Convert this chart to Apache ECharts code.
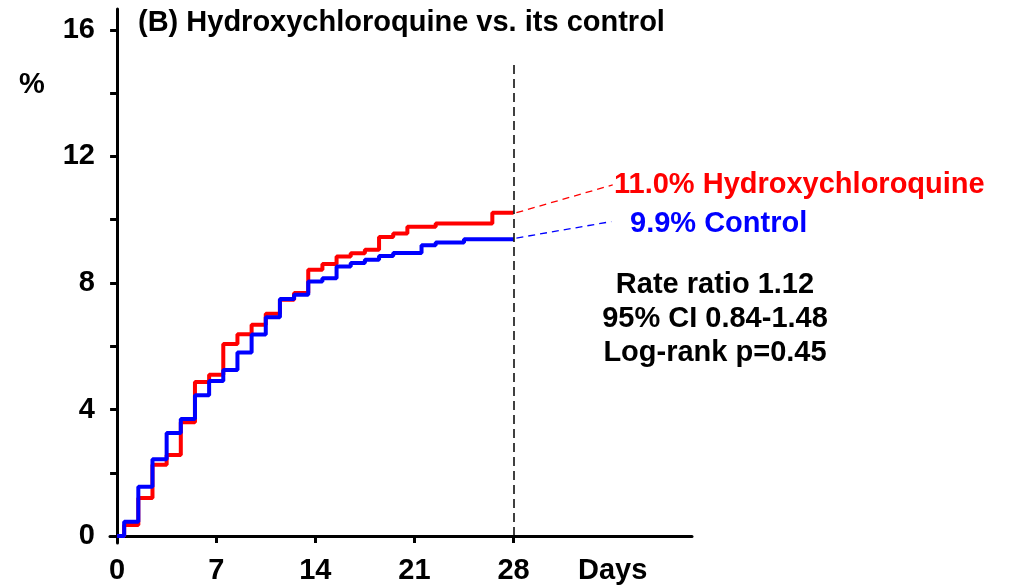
<!DOCTYPE html>
<html>
<head>
<meta charset="utf-8">
<script src="https://cdn.jsdelivr.net/npm/echarts@6/dist/echarts.min.js"></script>
<style>
  html, body { margin: 0; padding: 0; background: #fff; }
  #chart { width: 1015px; height: 587px; }
</style>
</head>
<body>
<div id="chart"></div>
<script>
// step times (days) and cumulative % for each arm
const hcqDays = [0, 0.5, 1.5, 2.5, 3.5, 4.5, 5.5, 6.5, 7.5, 8.5, 9.5, 10.5, 11.5, 12.5, 13.5, 14.5, 15.5, 16.5, 17.5, 18.5, 19.5, 20.5, 22.5, 26.5, 28];
const hcqPct = [0, 0.35, 1.2, 2.25, 2.56, 3.6, 4.87, 5.1, 6.07, 6.38, 6.68, 7.03, 7.47, 7.68, 8.42, 8.6, 8.84, 8.94, 9.05, 9.45, 9.56, 9.78, 9.88, 10.22, 10.22];
const ctrlDays = [0, 0.5, 1.5, 2.5, 3.5, 4.5, 5.5, 6.5, 7.5, 8.5, 9.5, 10.5, 11.5, 12.5, 13.5, 14.5, 15.5, 16.5, 17.5, 18.5, 19.5, 21.5, 22.5, 24.5, 28];
const ctrlPct = [0, 0.45, 1.56, 2.43, 3.26, 3.7, 4.45, 4.9, 5.25, 5.8, 6.37, 6.92, 7.49, 7.63, 8.05, 8.15, 8.52, 8.63, 8.73, 8.85, 8.95, 9.19, 9.28, 9.38, 9.38];

const xTicks = [0, 7, 14, 21, 28];
const xLabels = [0, 7, 14, 21, 28, 35];
const yTicks = [0, 2, 4, 6, 8, 10, 12, 14, 16];
const yLabels = [0, 4, 8, 12, 16];

const FONT = '"Liberation Sans", Arial, Helvetica, sans-serif';
const FS = 29;

const chart = echarts.init(document.getElementById("chart"));

const option = {
  animation: false,
  grid: { left: 110, right: 323, top: 9, bottom: 44 },
  xAxis: {
    type: "value",
    min: -0.5,
    max: 40.6,
    splitLine: { show: false },
    axisLine: { lineStyle: { color: "#000", width: 3 } },
    axisTick: { customValues: xTicks, length: 7, lineStyle: { color: "#000", width: 3 } },
    axisLabel: {
      customValues: xLabels,
      margin: 13,
      color: "#000",
      fontFamily: FONT,
      fontWeight: "bold",
      fontSize: FS,
      formatter: (v) => (v === 35 ? "Days" : String(v)),
    },
  },
  yAxis: {
    type: "value",
    min: -0.22,
    max: 16.66,
    splitLine: { show: false },
    axisLine: { lineStyle: { color: "#000", width: 3 } },
    axisTick: { customValues: yTicks, length: 7, lineStyle: { color: "#000", width: 3 } },
    axisLabel: {
      customValues: yLabels,
      margin: 15,
      color: "#000",
      fontFamily: FONT,
      fontWeight: "bold",
      fontSize: FS,
    },
  },
  series: [
    {
      name: "Hydroxychloroquine",
      type: "line",
      step: "end",
      symbol: "none",
      lineStyle: { color: "#ff0000", width: 4 },
      data: hcqDays.map((d, i) => [d, hcqPct[i]]),
      markLine: {
        silent: true,
        symbol: "none",
        label: { show: false },
        lineStyle: { color: "#ff0000", width: 1.3, type: [7, 5] },
        data: [[{ coord: [28.2, 10.22] }, { coord: [35, 11.1] }]],
      },
    },
    {
      name: "Control",
      type: "line",
      step: "end",
      symbol: "none",
      lineStyle: { color: "#0000ff", width: 4 },
      data: ctrlDays.map((d, i) => [d, ctrlPct[i]]),
      markLine: {
        silent: true,
        symbol: "none",
        label: { show: false },
        lineStyle: { color: "#0000ff", width: 1.3, type: [7, 5] },
        data: [[{ coord: [28.2, 9.42] }, { coord: [34.9, 9.94] }]],
      },
    },
    {
      // dashed 28-day cut-off
      type: "line",
      data: [],
      markLine: {
        silent: true,
        symbol: "none",
        label: { show: false },
        lineStyle: { color: "#000", width: 1.5, type: [9, 5] },
        data: [[{ coord: [28, 0] }, { coord: [28, 15] }]],
      },
    },
  ],
  graphic: [
    {
      type: "text", left: 138, top: 8,
      style: { text: "(B) Hydroxychloroquine vs. its control", fill: "#000", font: `bold ${FS}px ${FONT}` },
    },
    {
      type: "text", left: 19, top: 70,
      style: { text: "%", fill: "#000", font: `bold ${FS}px ${FONT}` },
    },
    {
      type: "text", left: 614, top: 170,
      style: { text: "11.0% Hydroxychloroquine", fill: "#ff0000", font: `bold ${FS}px ${FONT}` },
    },
    {
      type: "text", left: 630, top: 209,
      style: { text: "9.9% Control", fill: "#0000ff", font: `bold ${FS}px ${FONT}` },
    },
    {
      type: "text", x: 715, y: 268,
      style: {
        text: "Rate ratio 1.12\n95% CI 0.84-1.48\nLog-rank p=0.45",
        fill: "#000",
        font: `bold ${FS}px ${FONT}`,
        align: "center",
        lineHeight: 34,
      },
    },
  ],
};

chart.setOption(option);
</script>
</body>
</html>
